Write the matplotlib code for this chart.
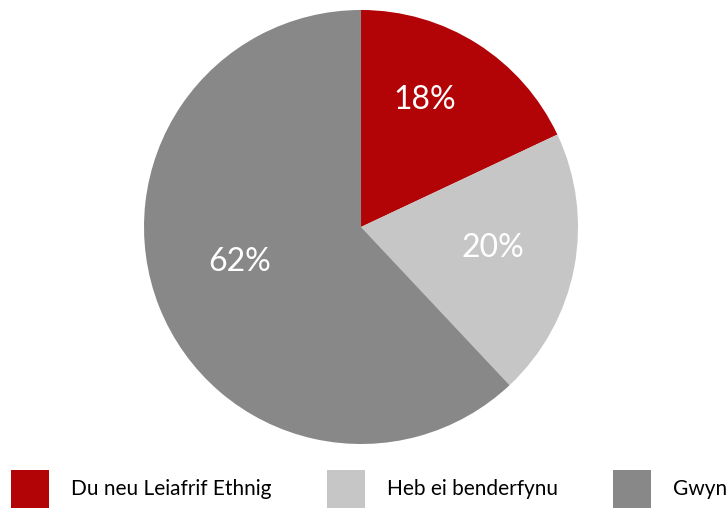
import matplotlib
matplotlib.use("Agg")
import matplotlib.pyplot as plt

# Data
labels = ["Du neu Leiafrif Ethnig", "Heb ei benderfynu", "Gwyn"]
values = [18, 20, 62]
colors = ["#B20407", "#C5C6C5", "#888888"]

# small nudges of the percentage labels (data units)
label_nudge = [(-0.037, 0.06), (0.0, 0.018), (0.018, 0.069)]

plt.rcParams["font.family"] = ["Lato", "DejaVu Sans"]

fig = plt.figure(figsize=(7.28, 5.09), dpi=100)
ax = fig.add_axes([0.1978, 0.1277, 0.5962, 0.8527])

wedges, texts, autotexts = ax.pie(
    values, colors=colors, startangle=90, counterclock=False,
    autopct="%d%%", pctdistance=0.62, radius=1.0,
    textprops=dict(color="white", fontsize=23),
)
for t, (dx, dy) in zip(autotexts, label_nudge):
    x, y = t.get_position()
    t.set_position((x + dx, y + dy))

ax.set_xlim(-1, 1)
ax.set_ylim(-1, 1)
ax.set_aspect("equal")

fig.legend(
    wedges, labels, loc="lower left", bbox_to_anchor=(0.0151, 0.002),
    ncol=3, frameon=False, fontsize=15, borderpad=0, borderaxespad=0,
    handlelength=1.83, handleheight=2.45, handletextpad=1.06, columnspacing=2.64,
)

fig.savefig("out.png", dpi=100)
